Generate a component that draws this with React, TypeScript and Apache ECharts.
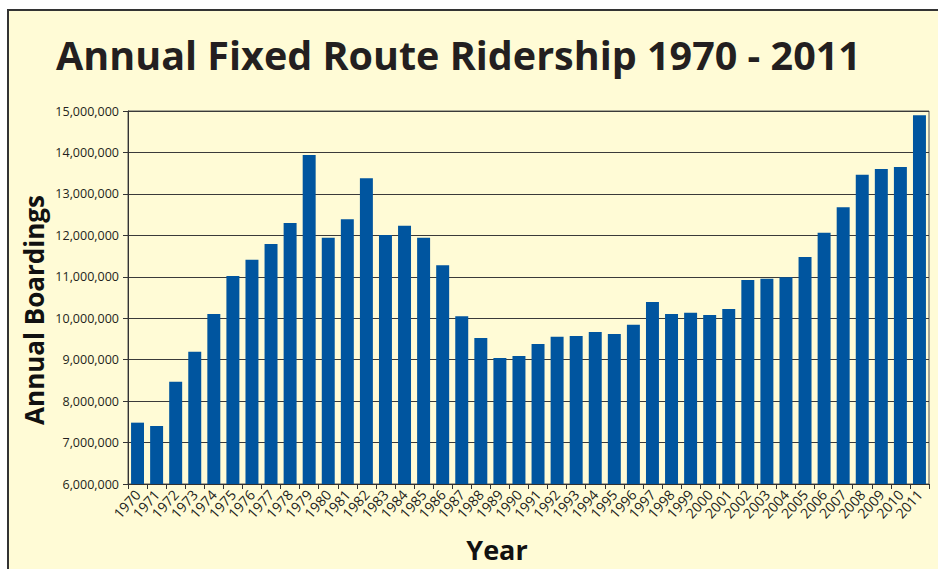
import React, { useEffect, useRef } from "react";
import * as echarts from "echarts";

const years = [
  "1970","1971","1972","1973","1974","1975","1976","1977","1978","1979",
  "1980","1981","1982","1983","1984","1985","1986","1987","1988","1989",
  "1990","1991","1992","1993","1994","1995","1996","1997","1998","1999",
  "2000","2001","2002","2003","2004","2005","2006","2007","2008","2009",
  "2010","2011",
];
const boardings = [
  7480000, 7400000, 8470000, 9190000, 10100000, 11020000, 11410000, 11790000, 12300000, 13940000,
  11940000, 12390000, 13380000, 12010000, 12230000, 11940000, 11280000, 10050000, 9520000, 9040000,
  9090000, 9380000, 9550000, 9570000, 9670000, 9620000, 9840000, 10390000, 10100000, 10130000,
  10080000, 10220000, 10920000, 10950000, 10990000, 11480000, 12060000, 12680000, 13460000, 13600000,
  13650000, 14900000,
];
const titleText = "Annual Fixed Route Ridership 1970 - 2011";
const yTitle = "Annual Boardings";
const xTitle = "Year";
const yMin = 6000000;
const yMax = 15000000;
const yStep = 1000000;

export default function App() {
  const ref = useRef<HTMLDivElement>(null);
  useEffect(() => {
    if (!ref.current) return;
    const chart = echarts.init(ref.current, null, { renderer: "svg" });
    const font = "'Open Sans', 'Noto Sans', sans-serif";
    chart.setOption({
      animation: false,
      backgroundColor: "#ffffff",
      textStyle: { fontFamily: font },
      graphic: [
        {
          type: "rect",
          z: -10,
          silent: true,
          shape: { x: 8, y: 10, width: 960, height: 600 },
          style: { fill: "#FFFBD6", stroke: "#333333", lineWidth: 2 },
        },
        {
          type: "text",
          left: 56,
          top: 35,
          style: {
            text: titleText,
            fontFamily: font,
            fontWeight: "bold",
            fontSize: 39.5,
            fill: "#231f20",
          },
        },
        {
          type: "text",
          x: 34,
          y: 310,
          rotation: Math.PI / 2,
          style: {
            text: yTitle,
            fontFamily: font,
            fontWeight: "bold",
            fontSize: 26,
            fill: "#111111",
            align: "center",
            verticalAlign: "middle",
          },
        },
        {
          type: "text",
          x: 497,
          y: 549,
          style: {
            text: xTitle,
            fontFamily: font,
            fontWeight: "bold",
            fontSize: 27,
            fill: "#111111",
            align: "center",
            verticalAlign: "middle",
          },
        },
      ],
      grid: {
        left: 128,
        right: 9,
        top: 111,
        bottom: 85,
        show: true,
        borderColor: "#555555",
        borderWidth: 1,
        backgroundColor: "transparent",
      },
      xAxis: {
        type: "category",
        data: years,
        axisLine: { lineStyle: { color: "#333333", width: 1 } },
        axisTick: { show: true, length: 5, lineStyle: { color: "#333333" } },
        axisLabel: {
          rotate: 48,
          interval: 0,
          fontSize: 14,
          color: "#231f20",
          margin: 8,
          fontFamily: font,
        },
      },
      yAxis: {
        type: "value",
        min: yMin,
        max: yMax,
        interval: yStep,
        axisLine: { show: true, lineStyle: { color: "#333333", width: 1 } },
        axisTick: { show: true, length: 5, lineStyle: { color: "#333333" } },
        splitLine: { lineStyle: { color: "#3a3a3a", width: 1 } },
        axisLabel: {
          fontSize: 12.5,
          color: "#231f20",
          margin: 9,
          fontFamily: font,
          formatter: (v: number) => v.toLocaleString("en-US"),
        },
      },
      series: [
        {
          type: "bar",
          data: boardings,
          barCategoryGap: "32%",
          itemStyle: { color: "#00559F" },
        },
      ],
    });
    return () => chart.dispose();
  }, []);
  return (
    <div
      ref={ref}
      style={{ position: "fixed", left: 0, top: 0, width: 938, height: 569 }}
    />
  );
}
